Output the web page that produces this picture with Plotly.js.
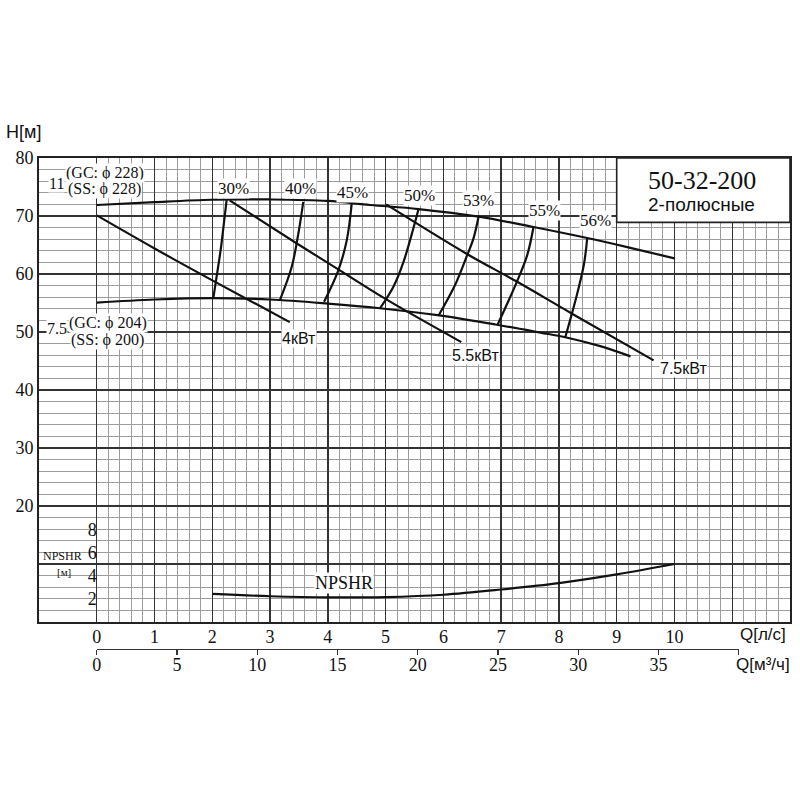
<!DOCTYPE html>
<html>
<head>
<meta charset="utf-8">
<script src="https://cdn.plot.ly/plotly-3.0.1.min.js"></script>
<style>html,body{margin:0;padding:0;background:#fff;}#chart{width:800px;height:800px;}</style>
</head>
<body>
<div id="chart"></div>
<script>
// ---- data (Q in l/s, H in m) ----
const qUpper = [0, 1, 2, 3, 4, 4.73, 5.57, 6.61, 7.56, 8.49, 9.2, 10];
const hUpper = [71.9, 72.4, 72.8, 72.85, 72.6, 71.9, 71.2, 69.9, 68.1, 66.2, 64.6, 62.7];
const qLower = [0, 1, 2, 3, 4, 4.9, 5.9, 6.9, 7.68, 8.11, 8.7, 9.24];
const hLower = [55.05, 55.6, 55.85, 55.6, 54.9, 54.1, 52.9, 51.3, 49.9, 49.1, 47.6, 45.8];

const q4kW = [0, 1, 2, 3.34];
const h4kW = [70.1, 64.4, 58.9, 51.7];
const q55kW = [2.3, 3.457, 4.18, 4.99, 6.31];
const h55kW = [72.7, 65.3, 60.8, 55.75, 48.26];
const q75kW = [5.01, 6.4, 7.27, 8.22, 9.64];
const h75kW = [72.0, 63.5, 58.7, 53.2, 45.1];

const effLabels = ['30%', '40%', '45%', '50%', '53%', '55%', '56%'];
const effQ = [
  [2.016, 2.074, 2.144, 2.20, 2.248],
  [3.17, 3.374, 3.49, 3.575],
  [3.934, 4.18, 4.327, 4.414],
  [4.905, 5.135, 5.31, 5.48, 5.57],
  [5.92, 6.20, 6.41, 6.52, 6.61],
  [6.94, 7.27, 7.45, 7.56],
  [8.11, 8.28, 8.43, 8.49]
];
const effH = [
  [55.7, 59.5, 64.1, 68.7, 72.74],
  [55.5, 61.2, 67.0, 72.45],
  [55.2, 60.6, 65.8, 72.2],
  [54.1, 57.8, 62.1, 67.85, 71.2],
  [52.9, 58.06, 63.2, 66.1, 69.9],
  [51.3, 58.6, 63.2, 68.1],
  [49.1, 55.2, 61.5, 66.2]
];
const effLabelQ = [2.363, 3.522, 4.423, 5.59, 6.604, 7.755, 8.629];
const effLabelH = [74.8, 74.8, 74.1, 73.6, 72.6, 70.9, 69.3];

const qNpsh = [2, 3, 4, 5, 6, 7, 8, 9, 10];
const npsh = [2.42, 2.22, 2.12, 2.15, 2.35, 2.8, 3.35, 4.1, 5.0];

const qTicksLs = [0, 1, 2, 3, 4, 5, 6, 7, 8, 9, 10, 11];
const qTickTextLs = ['0', '1', '2', '3', '4', '5', '6', '7', '8', '9', '10', ''];
const qTicksM3h = [0, 5, 10, 15, 20, 25, 30, 35, 40];
const qTickTextM3h = ['0', '5', '10', '15', '20', '25', '30', '35', ''];
const hTicks = [10, 20, 30, 40, 50, 60, 70, 80];
const hTickText = ['', '20', '30', '40', '50', '60', '70', '80'];
const npshTicks = [2, 4, 6, 8];

const powerLabels = ['4кВт', '5.5кВт', '7.5кВт'];

// ---- layout helpers ----
const LS_TO_M3H = 3.6;
const xRange = [-1, 12];
const SERIF = 'Liberation Serif, Times New Roman, serif';
const SANS = 'Liberation Sans, Arial, sans-serif';
const BLACK = '#111';

const minorX = [];
for (let i = 1; i < 60; i++) { if (i % 5 !== 0) minorX.push(Math.round(i * 0.2 * 10) / 10); }
const minorY = [];
for (let v = 2; v < 80; v += 2) { if (v % 10 !== 0) minorY.push(v); }

const lineStyle = {color: BLACK, width: 2.2, shape: 'spline'};
const traces = [];
function addLine(xs, ys, extra) {
  traces.push(Object.assign({x: xs, y: ys, mode: 'lines', line: lineStyle, hoverinfo: 'skip'}, extra || {}));
}
addLine(qUpper, hUpper);
addLine(qLower, hLower);
addLine(q4kW, h4kW);
addLine(q55kW, h55kW);
addLine(q75kW, h75kW);
for (let i = 0; i < effQ.length; i++) addLine(effQ[i], effH[i]);
addLine(qNpsh, npsh, {yaxis: 'y2'});
// empty trace so the m³/h axis gets drawn
traces.push({x: [null], y: [null], xaxis: 'x2', yaxis: 'y3', mode: 'lines', hoverinfo: 'skip'});

const annotations = [];
function addText(text, x, y, size, family, extra) {
  annotations.push(Object.assign({text: text, x: x, y: y, xref: 'x', yref: 'y', showarrow: false,
    xanchor: 'center', yanchor: 'middle',
    font: {family: family, size: size, color: BLACK}, bgcolor: '#fff', borderpad: 0}, extra || {}));
}
for (let i = 0; i < effLabels.length; i++) addText(effLabels[i], effLabelQ[i], effLabelH[i], 17, SERIF);
const powerLabelQ = [3.5, 6.56, 10.16];
const powerLabelH = [48.9, 46.0, 43.7];
for (let i = 0; i < powerLabels.length; i++) addText(powerLabels[i], powerLabelQ[i], powerLabelH[i], 16, SANS);

addText('11', -0.70, 75.6, 16, SERIF);
addText('(GC: ϕ 228)', 0.14, 77.4, 16, SERIF);
addText('(SS: ϕ 228)', 0.14, 74.6, 16, SERIF);
addText('7.5', -0.68, 50.6, 16, SERIF);
addText('(GC: ϕ 204)', 0.19, 51.5, 16, SERIF);
addText('(SS: ϕ 200)', 0.19, 48.6, 16, SERIF);
addText('NPSHR', 4.28, 3.37, 18, SERIF, {yref: 'y2'});
addText('NPSHR', -0.585, 5.7, 12, SERIF, {yref: 'y2', bgcolor: 'rgba(0,0,0,0)'});
addText('[м]', -0.56, 4.32, 11, SERIF, {yref: 'y2', bgcolor: 'rgba(0,0,0,0)'});
addText('50-32-200', 10.476, 76.2, 26, SERIF, {bgcolor: 'rgba(0,0,0,0)'});
addText('2-полюсные', 10.476, 72.05, 19, SANS, {bgcolor: 'rgba(0,0,0,0)'});

// paper: x 39..790, y 158..680 (522 px)
annotations.push({text: 'H[м]', xref: 'paper', yref: 'paper', x: -0.0213, y: (680 - 132) / 522, showarrow: false,
  xanchor: 'center', yanchor: 'middle', font: {family: SANS, size: 18, color: BLACK}});
annotations.push({text: 'Q[л/с]', xref: 'x', yref: 'paper', x: 11.53, y: (680 - 634) / 522, showarrow: false,
  xanchor: 'center', yanchor: 'middle', font: {family: SANS, size: 17, color: BLACK}});
annotations.push({text: 'Q[м³/ч]', xref: 'x', yref: 'paper', x: 11.53, y: (680 - 664) / 522, showarrow: false,
  xanchor: 'center', yanchor: 'middle', font: {family: SANS, size: 17, color: BLACK}});

const yDomainStart = (680 - 622) / 522;
const x2Pos = (680 - 649) / 522;
const x2Start = (0 - xRange[0]) / (xRange[1] - xRange[0]);
const x2End = (40 / LS_TO_M3H - xRange[0]) / (xRange[1] - xRange[0]);

const majorGrid = '#333';
const minorGrid = '#9c9c9c';

const layout = {
  width: 800, height: 800,
  margin: {l: 39, r: 10, t: 158, b: 120},
  paper_bgcolor: '#fff', plot_bgcolor: 'rgba(0,0,0,0)',
  showlegend: false,
  xaxis: {
    range: xRange, tickmode: 'array', tickvals: qTicksLs, ticktext: qTickTextLs,
    showgrid: true, gridcolor: majorGrid, gridwidth: 1.4, zeroline: false,
    ticks: '', showline: true, mirror: true, linecolor: '#222', linewidth: 1.8,
    ticklabelstandoff: -2,
    tickfont: {family: SERIF, size: 18, color: BLACK},
    minor: {tickmode: 'array', tickvals: minorX, showgrid: true, gridcolor: minorGrid, gridwidth: 1, ticks: ''},
    fixedrange: true
  },
  xaxis2: {
    anchor: 'y3', side: 'bottom',
    domain: [x2Start, x2End], range: [0, 40],
    tickmode: 'array', tickvals: qTicksM3h, ticktext: qTickTextM3h,
    showgrid: false, zeroline: false, showline: true, linecolor: '#333', linewidth: 1.3,
    ticks: 'outside', ticklen: 5, tickcolor: '#333', tickwidth: 1.3,
    ticklabelstandoff: -6,
    tickfont: {family: SERIF, size: 18, color: BLACK}, fixedrange: true
  },
  yaxis: {
    domain: [yDomainStart, 1], range: [0, 80], tickmode: 'array', tickvals: hTicks, ticktext: hTickText,
    showgrid: true, gridcolor: majorGrid, gridwidth: 1.4, zeroline: false,
    ticks: '', showline: true, mirror: true, linecolor: '#222', linewidth: 1.8,
    tickfont: {family: SERIF, size: 18, color: BLACK},
    minor: {tickmode: 'array', tickvals: minorY, showgrid: true, gridcolor: minorGrid, gridwidth: 1, ticks: ''},
    fixedrange: true
  },
  yaxis2: {
    overlaying: 'y', anchor: 'free', position: x2Start, side: 'left',
    range: [0, 40], tickmode: 'array', tickvals: npshTicks,
    showgrid: false, zeroline: false, showline: false, ticks: '',
    tickfont: {family: SERIF, size: 18, color: BLACK}, fixedrange: true
  },
  yaxis3: {
    domain: [x2Pos, x2Pos + 0.02], range: [0, 1], visible: false, showgrid: false, zeroline: false,
    fixedrange: true
  },
  shapes: [{type: 'rect', xref: 'x', yref: 'y', x0: 9.0, x1: 12, y0: 68.9, y1: 80,
    fillcolor: '#fff', line: {color: '#222', width: 1.6}, layer: 'above'}],
  annotations: annotations
};

Plotly.newPlot('chart', traces, layout, {staticPlot: true, displayModeBar: false});
</script>
</body>
</html>
